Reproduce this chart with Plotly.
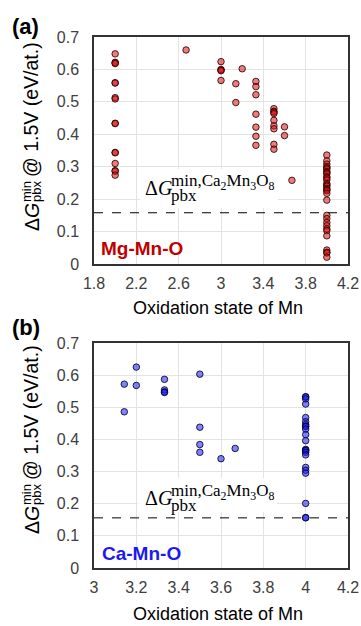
import plotly.graph_objects as go

# ---------------- data ----------------
mg_x = [2.0]*16 + [2.67] + [3.0]*5 + [3.14]*2 + [3.2] + [3.33]*7 + [3.5]*9 + [3.6]*2 + [3.67] + [4.0]*31
mg_y = [0.648, 0.622, 0.620, 0.618, 0.559, 0.558, 0.513, 0.509, 0.434, 0.433, 0.344, 0.343,
        0.310, 0.288, 0.286, 0.274,
        0.660,
        0.624, 0.600, 0.598, 0.596, 0.566,
        0.556, 0.498,
        0.602,
        0.563, 0.547, 0.522, 0.462, 0.422, 0.394, 0.366,
        0.479, 0.471, 0.468, 0.464, 0.443, 0.426, 0.417, 0.369, 0.354,
        0.423, 0.396,
        0.258,
        0.336, 0.318, 0.308, 0.300, 0.296, 0.293, 0.285, 0.282, 0.278, 0.269, 0.265,
        0.259, 0.248, 0.244, 0.240, 0.233, 0.229, 0.226, 0.218, 0.197,
        0.150, 0.140, 0.128, 0.118, 0.108, 0.103, 0.087,
        0.043, 0.036, 0.034, 0.021]

ca_x = [3.143]*2 + [3.2]*2 + [3.333]*4 + [3.5]*4 + [3.6] + [3.667] + [4.0]*23
ca_y = [0.572, 0.486,
        0.625, 0.568,
        0.587, 0.554, 0.548, 0.546,
        0.603, 0.438, 0.384, 0.360,
        0.340,
        0.372,
        0.533, 0.532, 0.526, 0.510, 0.468, 0.455, 0.446, 0.441, 0.440, 0.432, 0.415,
        0.396, 0.369, 0.367, 0.365, 0.360, 0.352, 0.313, 0.304, 0.295, 0.201, 0.157, 0.156]

threshold_top = 0.158
threshold_bot = 0.156

y_ticks = [0, 0.1, 0.2, 0.3, 0.4, 0.5, 0.6, 0.7]
y_ticktext = ["0", "0.1", "0.2", "0.3", "0.4", "0.5", "0.6", "0.7"]
x1_ticks = [1.8, 2.2, 2.6, 3.0, 3.4, 3.8, 4.2]
x1_ticktext = ["1.8", "2.2", "2.6", "3", "3.4", "3.8", "4.2"]
x2_ticks = [3.0, 3.2, 3.4, 3.6, 3.8, 4.0, 4.2]
x2_ticktext = ["3", "3.2", "3.4", "3.6", "3.8", "4", "4.2"]

# ---------------- layout geometry (screen pixels) ----------------
W, H = 361, 626
PX0, PX1 = 94, 348                # plot area left/right
TOP_Y0, TOP_Y1 = 37, 264          # top panel
BOT_Y0, BOT_Y1 = 343, 568         # bottom panel
PW, PH = PX1 - PX0, BOT_Y1 - TOP_Y0
L, T = PX0, TOP_Y0
R = W - L - PW
B = H - T - PH


def pxp(xp, yp):
    return (xp - PX0) / PW, (BOT_Y1 - yp) / PH


def top_px(xp, yp):
    return 1.8 + (xp - PX0) / PW * 2.4, (TOP_Y1 - yp) / (TOP_Y1 - TOP_Y0) * 0.7


def bot_px(xp, yp):
    return 3.0 + (xp - PX0) / PW * 1.2, (BOT_Y1 - yp) / (BOT_Y1 - BOT_Y0) * 0.7


SANS = "Liberation Sans, Arial, sans-serif"
SERIF = "Liberation Serif, Times New Roman, serif"

fig = go.Figure()
fig.add_trace(go.Scatter(
    x=mg_x, y=mg_y, mode="markers", xaxis="x", yaxis="y",
    marker=dict(size=6.5, color="rgba(215,20,20,0.55)",
                line=dict(color="rgba(50,0,0,0.85)", width=1)),
    showlegend=False, hoverinfo="x+y"))
fig.add_trace(go.Scatter(
    x=ca_x, y=ca_y, mode="markers", xaxis="x2", yaxis="y2",
    marker=dict(size=6.5, color="rgba(30,30,235,0.55)",
                line=dict(color="rgba(0,0,60,0.85)", width=1)),
    showlegend=False, hoverinfo="x+y"))

axis_common = dict(showgrid=True, gridcolor="#e3e3e3", gridwidth=1,
                   showline=True, linecolor="#333333", linewidth=1.5, mirror=True,
                   ticks="", zeroline=False, automargin=False,
                   tickfont=dict(family=SANS, size=16, color="#404040"))

fig.update_layout(
    width=W, height=H, margin=dict(l=L, r=R, t=T, b=B, autoexpand=False),
    paper_bgcolor="white", plot_bgcolor="white",
    xaxis=dict(domain=[0, 1], anchor="y", range=[1.8, 4.2],
               tickvals=x1_ticks, ticktext=x1_ticktext, ticklabelstandoff=4, **axis_common),
    yaxis=dict(domain=[pxp(0, TOP_Y1)[1], 1], anchor="x", range=[0, 0.7],
               tickvals=y_ticks, ticktext=y_ticktext, ticklabelstandoff=10, **axis_common),
    xaxis2=dict(domain=[0, 1], anchor="y2", range=[3.0, 4.2],
                tickvals=x2_ticks, ticktext=x2_ticktext, ticklabelstandoff=4, **axis_common),
    yaxis2=dict(domain=[0, pxp(0, BOT_Y0)[1]], anchor="x2", range=[0, 0.7],
                tickvals=y_ticks, ticktext=y_ticktext, ticklabelstandoff=10, **axis_common),
)

# threshold dashed lines
fig.add_shape(type="line", xref="x domain", yref="y", x0=0, x1=1, y0=threshold_top, y1=threshold_top,
              line=dict(color="black", width=1, dash="dash"))
fig.add_shape(type="line", xref="x2 domain", yref="y2", x0=0, x1=1, y0=threshold_bot, y1=threshold_bot,
              line=dict(color="black", width=1, dash="dash"))

# white boxes behind the inner formula
bx0, by0 = top_px(140, 169)
bx1, by1 = top_px(278, 208)
fig.add_shape(type="rect", xref="x", yref="y", x0=bx0, x1=bx1, y0=by1, y1=by0,
              fillcolor="white", line=dict(width=0), layer="between")
bx0, by0 = bot_px(138, 478)
bx1, by1 = bot_px(277, 512)
fig.add_shape(type="rect", xref="x2", yref="y2", x0=bx0, x1=bx1, y0=by1, y1=by0,
              fillcolor="white", line=dict(width=0), layer="between")

ann = []


def formula(conv, xr, yr, base_y):
    gx, gy = conv(143, base_y)
    ann.append(dict(x=gx, y=gy, xref=xr, yref=yr, text="Δ<i>G</i>", showarrow=False,
                    xanchor="left", yanchor="middle", font=dict(family=SERIF, size=20, color="black")))
    sx, sy = conv(169, base_y - 6)
    ann.append(dict(x=sx, y=sy, xref=xr, yref=yr,
                    text="min,Ca<sub>2</sub>Mn<sub>3</sub>O<sub>8</sub>", showarrow=False,
                    xanchor="left", yanchor="middle", font=dict(family=SERIF, size=17, color="black")))
    px_, py_ = conv(169, base_y + 7)
    ann.append(dict(x=px_, y=py_, xref=xr, yref=yr, text="pbx", showarrow=False,
                    xanchor="left", yanchor="middle", font=dict(family=SERIF, size=17, color="black")))


formula(top_px, "x", "y", 188)
formula(bot_px, "x2", "y2", 498)

# system labels
mx, my = top_px(142, 248)
ann.append(dict(x=mx, y=my, xref="x", yref="y", text="<b>Mg-Mn-O</b>", showarrow=False,
                xanchor="center", yanchor="middle", font=dict(family=SANS, size=19, color="#C00000")))
cx, cy = bot_px(141, 553)
ann.append(dict(x=cx, y=cy, xref="x2", yref="y2", text="<b>Ca-Mn-O</b>", showarrow=False,
                xanchor="center", yanchor="middle", font=dict(family=SANS, size=19, color="#1A1AF0")))

# panel labels
for lbl, (xp, yp) in [("(a)", (25, 26)), ("(b)", (26, 328))]:
    x, y = pxp(xp, yp)
    ann.append(dict(x=x, y=y, xref="paper", yref="paper", text=f"<b>{lbl}</b>", showarrow=False,
                    xanchor="center", yanchor="middle", font=dict(family=SANS, size=22, color="black")))

# x-axis titles
for yp in (308, 614):
    x, y = pxp(218, yp)
    ann.append(dict(x=x, y=y, xref="paper", yref="paper", text="Oxidation state of Mn", showarrow=False,
                    xanchor="center", yanchor="middle", font=dict(family=SANS, size=18, color="black")))

# y-axis titles (rotated pieces)
for off in (0, 303):
    for text, xp, yp, sz in [("Δ<i>G</i>", 32, 217, 19.5), ("min", 26, 192, 13),
                             ("pbx", 36, 192, 13), ("@ 1.5V (eV/at.)", 31, 110, 19.5)]:
        x, y = pxp(xp, yp + off)
        ann.append(dict(x=x, y=y, xref="paper", yref="paper", text=text, showarrow=False,
                        textangle=-90, xanchor="center", yanchor="middle",
                        font=dict(family=SANS, size=sz, color="black")))

fig.update_layout(annotations=ann)
fig.write_html(
    "out.html",
    config={"displayModeBar": False},
    post_script="document.body.style.margin='0';document.documentElement.style.overflow='hidden';",
)
